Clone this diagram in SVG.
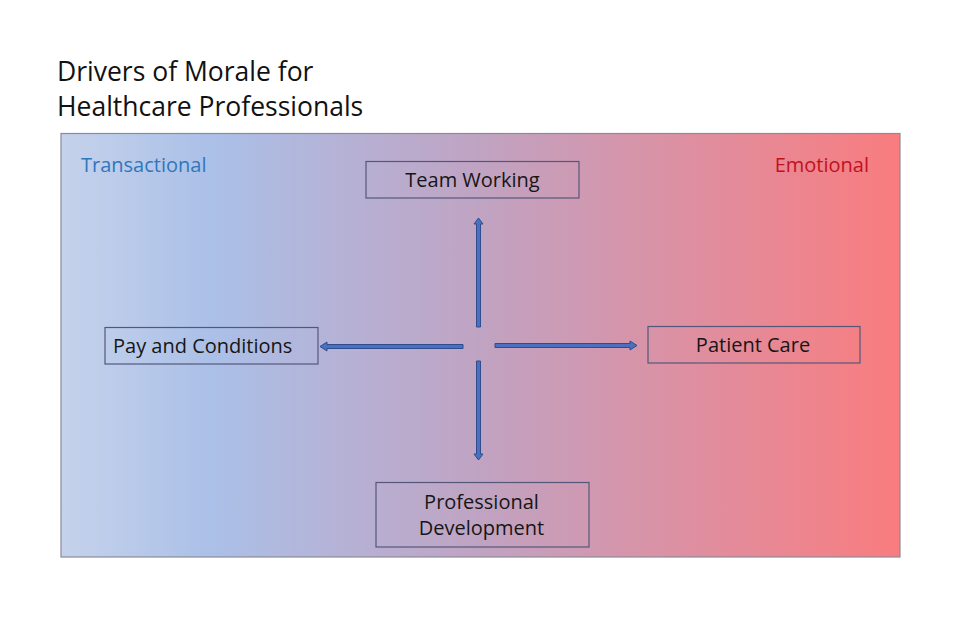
<svg xmlns="http://www.w3.org/2000/svg" width="960" height="640" viewBox="0 0 960 640">
<defs>
<linearGradient id="bg" x1="0" y1="0" x2="1" y2="0">
<stop offset="0" stop-color="#c5d2eb"/>
<stop offset="0.18" stop-color="#abc0e8"/>
<stop offset="0.5" stop-color="#c0a3c2"/>
<stop offset="0.8" stop-color="#e48b9a"/>
<stop offset="1" stop-color="#f97c7e"/>
</linearGradient>
<style>
.box{fill:none;stroke:#55577a;stroke-width:1.2}
.lbl{font-family:"Open Sans","Liberation Sans",sans-serif;font-size:20px;fill:#161616}
.arr{fill:#4a70bf;stroke:#2e4c8e;stroke-width:1}
</style>
</defs>
<rect width="960" height="640" fill="#ffffff"/>
<text x="57" y="81" font-family="Open Sans, Liberation Sans, sans-serif" font-size="26.5" fill="#111">Drivers of Morale for</text>
<text x="57" y="116" font-family="Open Sans, Liberation Sans, sans-serif" font-size="26.5" fill="#111">Healthcare Professionals</text>
<rect id="panel" x="61" y="133.5" width="839" height="423.5" fill="url(#bg)" stroke="#8a8a9a" stroke-width="1.2"/>
<text x="81" y="172" font-family="Open Sans, Liberation Sans, sans-serif" font-size="20" fill="#2f77bd">Transactional</text>
<text x="869" y="172" text-anchor="end" font-family="Open Sans, Liberation Sans, sans-serif" font-size="20" fill="#c0111f">Emotional</text>
<g id="connectors">
<path class="arr" d="M476.5,327 L476.5,224 L474,224 L478.5,218 L483,224 L480.5,224 L480.5,327 Z"/>
<path class="arr" d="M476.5,361 L480.5,361 L480.5,454 L483,454 L478.5,460 L474,454 L476.5,454 Z"/>
<path class="arr" d="M463,344.5 L463,348.5 L327,348.5 L327,351 L320,346.5 L327,342 L327,344.5 Z"/>
<path class="arr" d="M495,343.5 L630,343.5 L630,341 L637,345.5 L630,350 L630,347.5 L495,347.5 Z"/>
</g>
<g id="team-working">
<rect class="box" x="366" y="161.5" width="213" height="36.5"/>
<text class="lbl" x="472.5" y="187" text-anchor="middle">Team Working</text>
</g>
<g id="pay-and-conditions">
<rect class="box" x="105" y="327.5" width="213" height="36.5"/>
<text class="lbl" x="113" y="353">Pay and Conditions</text>
</g>
<g id="patient-care">
<rect class="box" x="648" y="326.5" width="212" height="36.5"/>
<text class="lbl" x="753" y="352" text-anchor="middle">Patient Care</text>
</g>
<g id="professional-development">
<rect class="box" x="376" y="482.5" width="213" height="64.5"/>
<text class="lbl" x="481.5" y="509" text-anchor="middle">Professional</text>
<text class="lbl" x="481.5" y="535" text-anchor="middle">Development</text>
</g>
</svg>
